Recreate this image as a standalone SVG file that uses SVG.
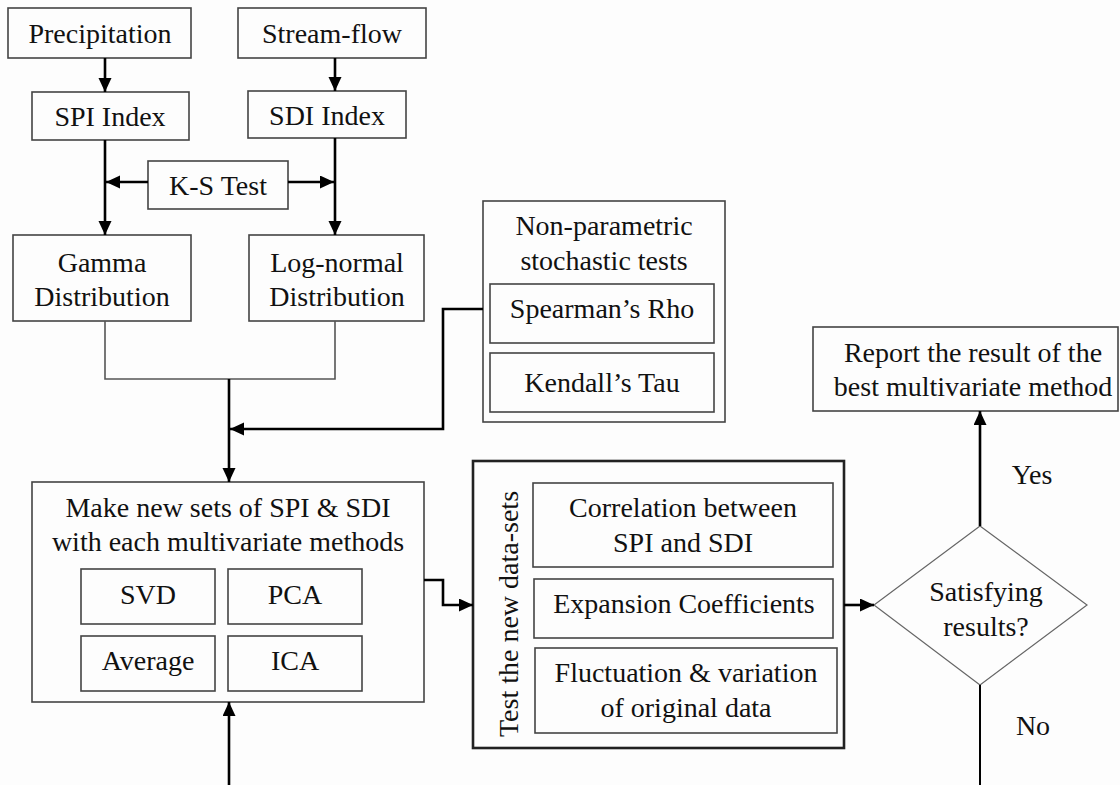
<svg xmlns="http://www.w3.org/2000/svg" width="1120" height="785" viewBox="0 0 1120 785">
<style>
text{font-family:"Liberation Serif","Times New Roman",serif;font-size:28px;fill:#111;text-anchor:middle}
.b{fill:none;stroke:#444;stroke-width:1.6}
.bt{fill:none;stroke:#222;stroke-width:2.6}
.a{fill:none;stroke:#000;stroke-width:2.6}
.t{fill:none;stroke:#555;stroke-width:1.6}
.d{fill:none;stroke:#666;stroke-width:1.2}
</style>
<defs>
<marker id="ah" markerUnits="userSpaceOnUse" markerWidth="15" markerHeight="14" refX="14" refY="6.5" orient="auto">
<path d="M0,0 L14,6.5 L0,13 z" fill="#000"/>
</marker>
</defs>
<rect width="1120" height="785" fill="#fdfdfd"/>
<g id="precipitation"><rect class="b" x="8" y="8" width="183" height="50"/><text x="100" y="43">Precipitation</text></g>
<g id="streamflow"><rect class="b" x="238" y="8" width="188" height="50"/><text x="332" y="43">Stream-flow</text></g>
<g id="spi"><rect class="b" x="32" y="92" width="157" height="48"/><text x="110" y="126">SPI Index</text></g>
<g id="sdi"><rect class="b" x="248" y="91" width="158" height="47"/><text x="327" y="125">SDI Index</text></g>
<g id="kstest"><rect class="b" x="148" y="161" width="140" height="48"/><text x="218" y="195">K-S Test</text></g>
<g id="gamma"><rect class="b" x="13" y="235" width="178" height="86"/><text x="102" y="272">Gamma</text><text x="102" y="306">Distribution</text></g>
<g id="lognormal"><rect class="b" x="249" y="235" width="175" height="86"/><text x="337" y="272">Log-normal</text><text x="337" y="306">Distribution</text></g>
<g id="nonparametric"><rect class="b" x="483" y="201" width="242" height="221"/><text x="604" y="235">Non-parametric</text><text x="604" y="270">stochastic tests</text>
<g id="spearman"><rect class="b" x="490" y="284" width="224" height="59"/><text x="602" y="318">Spearman’s Rho</text></g>
<g id="kendall"><rect class="b" x="490" y="353" width="224" height="59"/><text x="602" y="392">Kendall’s Tau</text></g></g>
<g id="multivariate"><rect class="b" x="32" y="482" width="392" height="220"/><text x="228" y="517">Make new sets of SPI &amp; SDI</text><text x="228" y="551">with each multivariate methods</text>
<g id="svd"><rect class="b" x="81" y="569" width="134" height="55"/><text x="148" y="604">SVD</text></g>
<g id="pca"><rect class="b" x="228" y="569" width="134" height="55"/><text x="295" y="604">PCA</text></g>
<g id="average"><rect class="b" x="81" y="636" width="134" height="55"/><text x="148" y="670">Average</text></g>
<g id="ica"><rect class="b" x="228" y="636" width="134" height="55"/><text x="295" y="670">ICA</text></g></g>
<g id="testbox"><rect class="bt" x="473" y="461" width="371" height="287"/><text transform="translate(518 614) rotate(-90)" x="0" y="0">Test the new data-sets</text>
<g id="correlation"><rect class="b" x="533" y="483" width="300" height="84"/><text x="683" y="517">Correlation between</text><text x="683" y="552">SPI and SDI</text></g>
<g id="expansion"><rect class="b" x="534" y="579" width="299" height="59"/><text x="684" y="613">Expansion Coefficients</text></g>
<g id="fluctuation"><rect class="b" x="535" y="648" width="302" height="85"/><text x="686" y="682">Fluctuation &amp; variation</text><text x="686" y="717">of original data</text></g></g>
<g id="decision"><polygon class="d" points="980,526 1087,605 980,685 874,605"/><text x="986" y="601">Satisfying</text><text x="986" y="636">results?</text></g>
<g id="report"><rect class="b" x="813" y="327" width="305" height="84"/><text x="973" y="362">Report the result of the</text><text x="973" y="396">best multivariate method</text></g>
<g id="connectors">
<line class="a" x1="105" y1="58" x2="105" y2="92" marker-end="url(#ah)"/>
<line class="a" x1="335" y1="58" x2="335" y2="91" marker-end="url(#ah)"/>
<line class="a" x1="105" y1="140" x2="105" y2="235" marker-end="url(#ah)"/>
<line class="a" x1="335" y1="138" x2="335" y2="235" marker-end="url(#ah)"/>
<line class="a" x1="148" y1="182" x2="106" y2="182" marker-end="url(#ah)"/>
<line class="a" x1="288" y1="182" x2="334" y2="182" marker-end="url(#ah)"/>
<polyline class="t" points="105,321 105,379 335,379 335,321"/>
<line class="a" x1="229" y1="379" x2="229" y2="482" marker-end="url(#ah)"/>
<polyline class="a" points="483,309 443,309 443,429 230,429" marker-end="url(#ah)"/>
<line class="a" x1="229" y1="785" x2="229" y2="702" marker-end="url(#ah)"/>
<polyline class="a" points="424,580 443,580 443,605 473,605" marker-end="url(#ah)"/>
<line class="a" x1="844" y1="605" x2="874" y2="605" marker-end="url(#ah)"/>
<line class="a" x1="980" y1="526" x2="980" y2="411" marker-end="url(#ah)"/>
<line x1="980" y1="685" x2="980" y2="785" stroke="#000" stroke-width="2"/>
<text x="1032" y="484">Yes</text>
<text x="1033" y="735">No</text>
</g>
</svg>
